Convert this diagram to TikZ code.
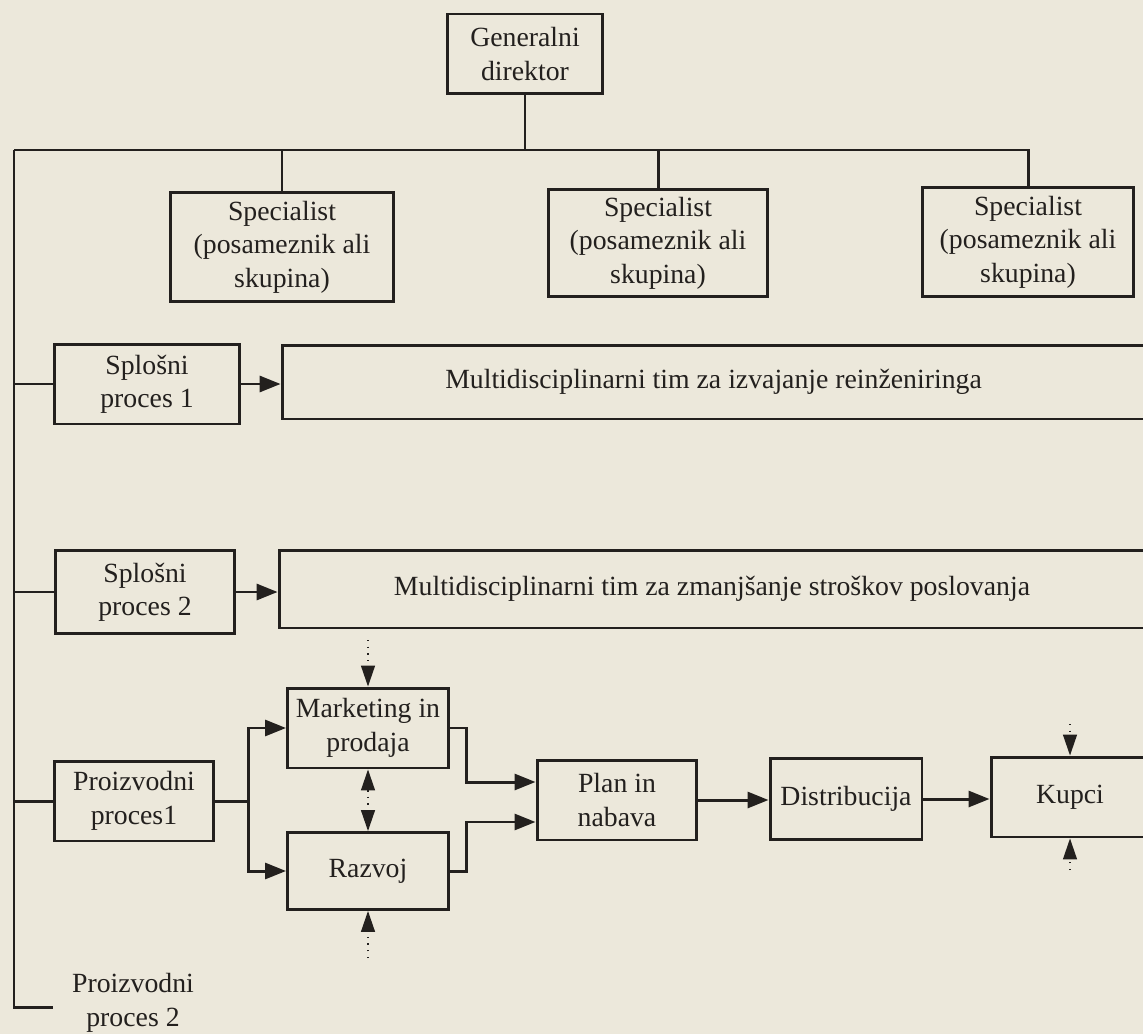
\documentclass[tikz,border=0pt]{standalone}
\usepackage{fontspec}
\setmainfont{Liberation Serif}
\usetikzlibrary{arrows.meta}

\definecolor{paper}{RGB}{236,232,219}
\definecolor{ink}{RGB}{35,32,30}

\tikzset{
  box/.style = {draw = ink, line width = 1.7pt, align = center, inner sep = 0pt,
    text = ink, font = \fontsize{15.8}{19}\selectfont},
  lbl/.style = {align = center, inner sep = 0pt, text = ink,
    font = \fontsize{15.8}{19}\selectfont},
  ln/.style = {draw = ink, line width = 1.7pt},
  arr/.style = {ln, -{Triangle[length = 0.42cm, width = 0.32cm]}},
  dotline/.style = {draw = ink, line width = 0.8pt, dash pattern = on 0.8pt off 3pt}
}

\begin{document}
\begin{tikzpicture}[x = 0.02cm, y = -0.02cm]
  \useasboundingbox (0,0) rectangle (1143,1034);
  \fill[paper] (0,0) rectangle (1143,1034);

  \node[box, minimum width = 3.12cm, minimum height = 1.6cm] (dir) at (525,54)
    {Generalni\\direktor};

  \node[box, minimum width = 4.46cm, minimum height = 2.2cm] (spec1) at (282,247)
    {Specialist\\(posameznik ali\\skupina)};
  \node[box, minimum width = 4.4cm, minimum height = 2.16cm] (spec2) at (658,243)
    {Specialist\\(posameznik ali\\skupina)};
  \node[box, minimum width = 4.22cm, minimum height = 2.2cm] (spec3) at (1028,242)
    {Specialist\\(posameznik ali\\skupina)};

  \node[box, minimum width = 3.7cm, minimum height = 1.6cm] (sp1) at (147,384)
    {Splošni\\proces 1};
  \node[box, minimum width = 17.26cm, minimum height = 1.48cm] (tim1) at (713.5,382)
    {Multidisciplinarni tim za izvajanje reinženiringa};

  \node[box, minimum width = 3.6cm, minimum height = 1.66cm] (sp2) at (145,592)
    {Splošni\\proces 2};
  \node[box, minimum width = 17.32cm, minimum height = 1.56cm] (tim2) at (712,589)
    {Multidisciplinarni tim za zmanjšanje stroškov poslovanja};

  \node[box, minimum width = 3.18cm, minimum height = 1.6cm] (pp1) at (134,801)
    {Proizvodni\\proces1};
  \node[box, minimum width = 3.22cm, minimum height = 1.6cm] (mark) at (368,728)
    {Marketing in\\prodaja};
  \node[box, minimum width = 3.22cm, minimum height = 1.54cm] (razvoj) at (368,871)
    {Razvoj};
  \node[box, minimum width = 3.2cm, minimum height = 1.6cm] (plan) at (617,800)
    {Plan in\\nabava};
  \node[box, minimum width = 3.04cm, minimum height = 1.62cm] (distr) at (846,799)
    {Distribucija};
  \node[box, minimum width = 3.16cm, minimum height = 1.6cm] (kupci) at (1070,797)
    {Kupci};

  \node[lbl] (pp2) at (133,1003) {Proizvodni\\proces 2};

  \coordinate (top) at (14,150);
  \coordinate (bot) at (14,1007);
  \coordinate (pp2end) at (53,1007);

  \draw[ln] (dir.south) -- (dir.south |- top);
  \draw[ln] (top) -| (spec3.north);
  \draw[ln] (spec1.north) -- (spec1.north |- top);
  \draw[ln] (spec2.north) -- (spec2.north |- top);
  \draw[ln] (top) -- (bot) -- (pp2end);

  \draw[ln] (sp1.west) -- (sp1.west -| top);
  \draw[ln] (sp2.west) -- (sp2.west -| top);
  \draw[ln] (pp1.west) -- (pp1.west -| top);

  \draw[arr] (sp1.east) -- (sp1.east -| tim1.west);
  \draw[arr] (sp2.east) -- (sp2.east -| tim2.west);

  \draw[ln] (pp1.east) -- ++(34,0) coordinate (split);
  \draw[arr] (split) |- (mark.west);
  \draw[arr] (split) |- (razvoj.west);

  \draw[arr] (mark.east) -- ++(17,0) |- ([yshift = 0.36cm]plan.west);
  \draw[arr] (razvoj.east) -- ++(17,0) |- ([yshift = -0.44cm]plan.west);
  \draw[arr] (plan.east) -- (plan.east -| distr.west);
  \draw[arr] (distr.east) -- (distr.east -| kupci.west);

  \coordinate (mtop) at (368,640);
  \coordinate (rbot) at (368,958);
  \coordinate (ktop) at (1070,724);
  \coordinate (kbot) at (1070,870);

  \draw[dotline, -{Triangle[length = 0.42cm, width = 0.28cm]}] (mtop) -- (mark.north);
  \draw[dotline, {Triangle[length = 0.42cm, width = 0.28cm]}-{Triangle[length = 0.42cm, width = 0.28cm]}]
    (mark.south) -- (razvoj.north);
  \draw[dotline, -{Triangle[length = 0.42cm, width = 0.28cm]}] (rbot) -- (razvoj.south);
  \draw[dotline, -{Triangle[length = 0.42cm, width = 0.28cm]}] (ktop) -- (kupci.north);
  \draw[dotline, -{Triangle[length = 0.42cm, width = 0.28cm]}] (kbot) -- (kupci.south);
\end{tikzpicture}
\end{document}
